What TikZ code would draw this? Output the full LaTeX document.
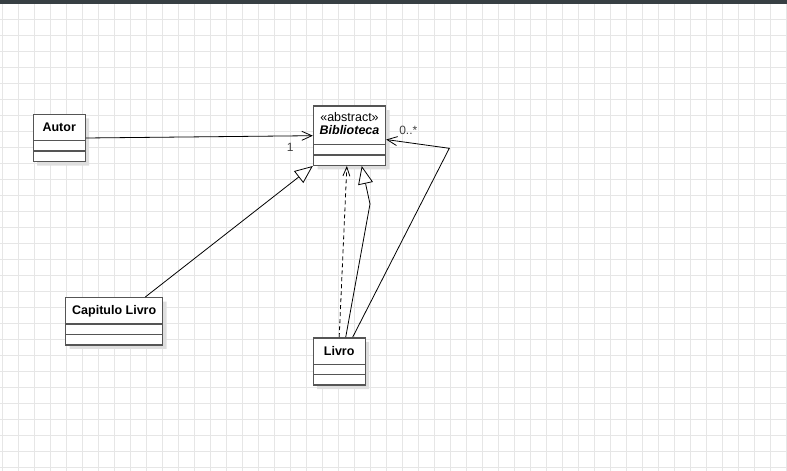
\documentclass[tikz,border=0pt]{standalone}
\usepackage{fontspec}
\setmainfont{Liberation Sans}
\usetikzlibrary{arrows.meta,shapes.multipart,shadows}
\definecolor{topbar}{HTML}{373F43}
\definecolor{gridline}{HTML}{E6E6E6}
\definecolor{classline}{HTML}{555555}
\newcommand\namestrut{\rule[-4pt]{0pt}{16pt}}
\newcommand\nofields{\kern1pt}
\begin{document}
\begin{tikzpicture}
        [x=1pt,y=1pt,
        umlclass/.style={rectangle split,rectangle split parts=3,draw=classline,line width=1.4pt,fill=white,
          inner xsep=3pt,inner ysep=4.5pt,
          font=\fontsize{12.5}{15}\selectfont,
          drop shadow={shadow xshift=4pt,shadow yshift=-4pt,fill=black!13,opacity=1}},
        link/.style={draw,line width=0.8pt},
        assoc/.style={link,-{Straight Barb[length=10pt,width=9pt]}},
        depend/.style={link,dash pattern=on 4pt off 3pt,-{Straight Barb[length=9pt,width=7pt]}},
        inherit/.style={link,-{Triangle[length=18pt,width=15pt,fill=white]}},
        mult/.style={font=\fontsize{12}{14}\selectfont,text=black!75,inner sep=1pt},
        ]
        \useasboundingbox (0,0) rectangle (787,471);
        \foreach \gx in {0,...,49} \draw[gridline,line width=1pt] (2+16*\gx,0) -- (2+16*\gx,471);
        \foreach \gy in {0,...,29} \draw[gridline,line width=1pt] (0,3+16*\gy) -- (787,3+16*\gy);
        \fill[topbar] (0,467) rectangle (787,471);
        \node[umlclass,minimum width=52pt] (autor) at (59.2,333) {\textbf{Autor}\namestrut\nodepart{two}\nofields\nodepart{three}\nofields};
        \node[umlclass,minimum width=72pt] (biblioteca) at (349.5,335.3) {\begin{tabular}{@{}c@{}}«abstract»\\[-2pt]\textbf{\textit{Biblioteca}}\end{tabular}\nodepart{two}\nofields\nodepart{three}\nofields};
        \node[umlclass,minimum width=97pt] (capitulo) at (114.2,149.7) {\textbf{Capitulo Livro}\namestrut\nodepart{two}\nofields\nodepart{three}\nofields};
        \node[umlclass,minimum width=52pt] (livro) at (339.2,109.5) {\textbf{Livro}\namestrut\nodepart{two}\nofields\nodepart{three}\nofields};
        \coordinate (livro-bend) at (370,267);
        \coordinate (assoc-bend) at (449.3,322.7);
        \draw[assoc] (autor.east) -- node[mult,pos=0.9,below=5.5pt] (mult-autor) {1} (biblioteca.west);
        \draw[inherit] (capitulo.38) -- (biblioteca.south west);
        \draw[depend] (livro.north) -- (biblioteca.-95);
        \draw[inherit] (livro.75) -- (livro-bend) -- (biblioteca.-68);
        \draw[assoc] (livro.61) -- (assoc-bend) -- node[mult,pos=0.65,above=7pt] (mult-livro) {0..*} (biblioteca.-6);
    \end{tikzpicture}
\end{document}
